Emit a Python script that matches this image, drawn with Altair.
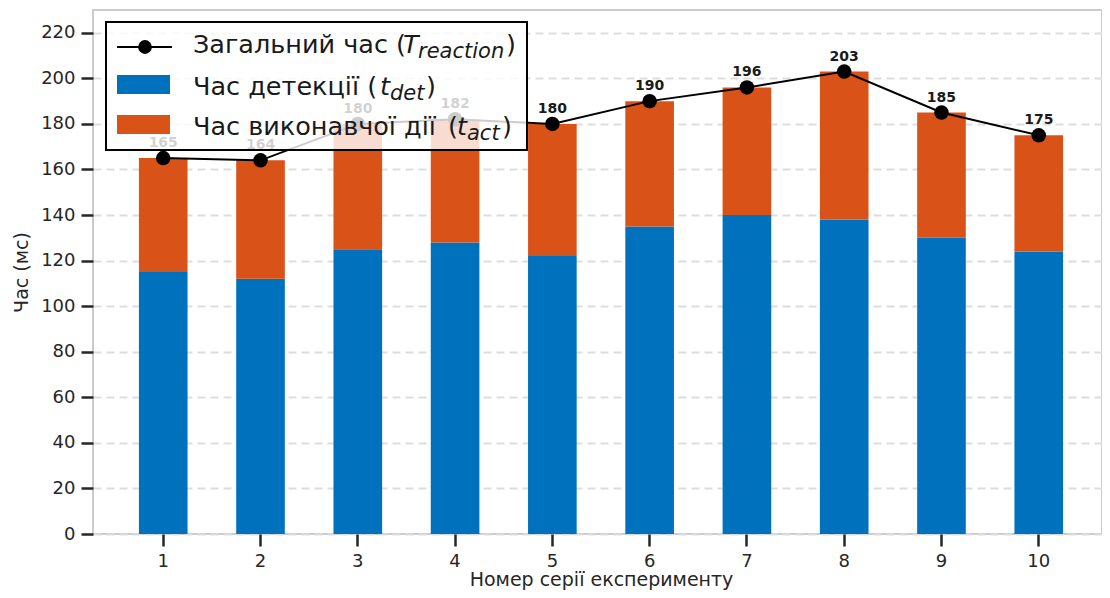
import altair as alt
import pandas as pd

experiments = ["1", "2", "3", "4", "5", "6", "7", "8", "9", "10"]
detection = [115, 112, 125, 128, 122, 135, 140, 138, 130, 124]
action = [50, 52, 55, 54, 58, 55, 56, 65, 55, 51]
total = [165, 164, 180, 182, 180, 190, 196, 203, 185, 175]
y_ticks = [0, 20, 40, 60, 80, 100, 120, 140, 160, 180, 200, 220]

BLUE = "#0072BD"
ORANGE = "#D95319"
FONT = "DejaVu Sans"
TXT = "#262626"

df = pd.DataFrame({
    "exp": experiments,
    "det": detection,
    "act": action,
    "total": total,
})
df["top"] = df["det"] + df["act"]

xenc = alt.X(
    "exp:N",
    sort=experiments,
    scale=alt.Scale(paddingInner=0.5, paddingOuter=0.472, range=[0, 1016]),
    axis=alt.Axis(
        title="Номер серії експерименту",
        labelAngle=0,
        grid=False,
        domain=False,
        ticks=True,
        tickSize=12,
        tickWidth=2.5,
        tickColor=TXT,
        labelPadding=6,
        titleBaseline="alphabetic",
        titleY=51,
    ),
)
yscale = alt.Scale(domain=[0, 230], nice=False, zero=True)
yaxis = alt.Axis(
    title="Час (мс)",
    values=y_ticks,
    grid=True,
    gridDash=[8, 5],
    gridColor="#dddddd",
    gridWidth=1.8,
    domain=False,
    tickSize=12,
    tickWidth=2.5,
    tickColor=TXT,
    labelPadding=6,
    titlePadding=9,
)

base = alt.Chart(df)

bar_det = base.mark_bar(color=BLUE).encode(
    x=xenc,
    y=alt.Y("det:Q", scale=yscale, axis=yaxis),
)
bar_act = base.mark_bar(color=ORANGE).encode(
    x=alt.X("exp:N", sort=experiments),
    y=alt.Y("det:Q"),
    y2="top:Q",
)
line = base.mark_line(color="black", strokeWidth=2).encode(
    x=alt.X("exp:N", sort=experiments),
    y=alt.Y("total:Q"),
)
pts = base.mark_point(filled=True, color="black", size=210, opacity=1).encode(
    x=alt.X("exp:N", sort=experiments),
    y=alt.Y("total:Q"),
)
labels = base.mark_text(
    font=FONT, fontSize=14, fontWeight="bold", color="#1a1a1a",
    baseline="middle", dy=-15,
).encode(
    x=alt.X("exp:N", sort=experiments),
    y=alt.Y("total:Q"),
    text=alt.Text("total:Q"),
)

one = pd.DataFrame({"k": [0]})

legend_box = alt.Chart(one).mark_rect(
    fill="white", fillOpacity=0.8, stroke="black", strokeWidth=2
).encode(x=alt.value(13), x2=alt.value(434), y=alt.value(12), y2=alt.value(140))

leg_rule = alt.Chart(one).mark_rule(color="black", strokeWidth=2).encode(
    x=alt.value(24), x2=alt.value(79), y=alt.value(37)
)
leg_pt = alt.Chart(one).mark_point(filled=True, color="black", size=190, opacity=1).encode(
    x=alt.value(52), y=alt.value(37)
)
leg_blue = alt.Chart(one).mark_rect(color=BLUE).encode(
    x=alt.value(24), x2=alt.value(77), y=alt.value(65), y2=alt.value(84)
)
leg_orange = alt.Chart(one).mark_rect(color=ORANGE).encode(
    x=alt.value(24), x2=alt.value(77), y=alt.value(105), y2=alt.value(124)
)

MAIN = 25.5
SUB = 21


def txt(s, x, y, size=MAIN, italic=False):
    kw = dict(font=FONT, fontSize=size, color="#1a1a1a", align="left", baseline="alphabetic")
    if italic:
        kw["fontStyle"] = "italic"
    return alt.Chart(one).mark_text(**kw).encode(
        x=alt.value(x), y=alt.value(y), text=alt.value(s)
    )


leg_texts = [
    txt("Загальний час (", 100, 43),
    txt("T", 310, 43, italic=True),
    txt("reaction", 325, 48, size=SUB, italic=True),
    txt(")", 413, 43),
    txt("Час детекції (", 100, 85),
    txt("t", 287, 85, italic=True),
    txt("det", 297, 90, size=SUB, italic=True),
    txt(")", 333, 85),
    txt("Час виконавчої дії", 100, 125),
    txt("(", 355, 125),
    txt("t", 364, 125, italic=True),
    txt("act", 374, 130, size=SUB, italic=True),
    txt(")", 409, 125),
]

chart = alt.layer(
    bar_det, bar_act, line, pts, labels,
    legend_box, leg_rule, leg_pt, leg_blue, leg_orange, *leg_texts,
).properties(
    width=1009,
    height=524,
    autosize=alt.AutoSizeParams(type="none"),
    padding={"left": 85, "top": 2, "right": 0, "bottom": 56},
).configure(
    font=FONT,
).configure_view(
    stroke="#cccccc", strokeWidth=2,
).configure_axis(
    labelFont=FONT, titleFont=FONT,
    labelFontSize=18, titleFontSize=19,
    labelColor=TXT, titleColor=TXT,
    titleFontWeight="normal",
)

chart.save("out.html", embed_options={"renderer": "svg", "actions": False})
